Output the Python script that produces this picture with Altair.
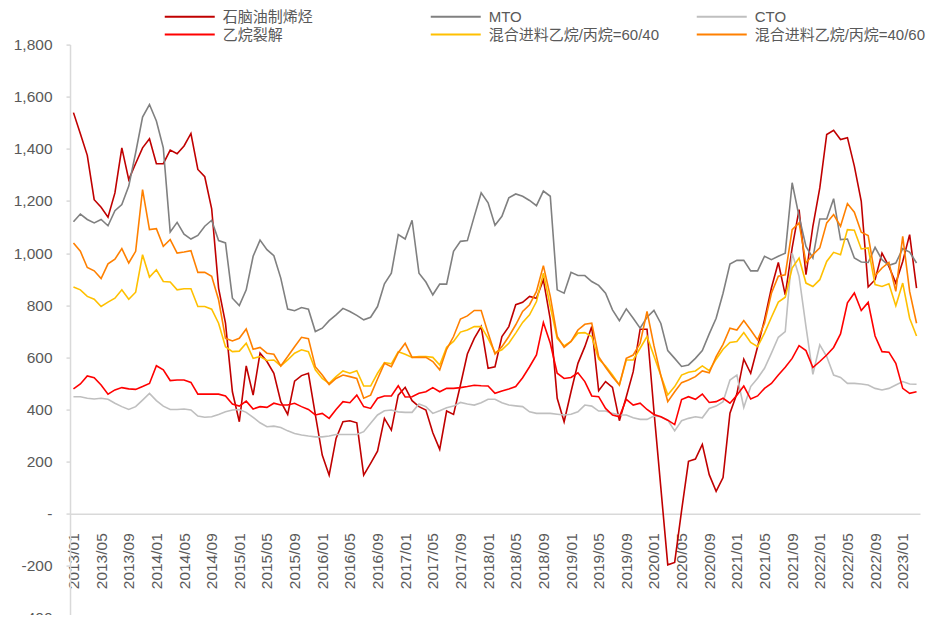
import altair as alt
import pandas as pd

# Monthly categories 2013/01 .. 2023/03
months = [f"{2013 + i // 12}/{i % 12 + 1:02d}" for i in range(123)]
tick_months = months[::4]

series_names = ["石脑油制烯烃", "MTO", "CTO", "乙烷裂解",
                "混合进料乙烷/丙烷=60/40", "混合进料乙烷/丙烷=40/60"]
series_colors = ["#C00000", "#808080", "#BFBFBF", "#FF0000", "#FFC000", "#FF8000"]

naphtha = [1539, 1458, 1375, 1205, 1176, 1138, 1231, 1404, 1282, 1344, 1404, 1439,
           1343, 1343, 1395, 1381, 1411, 1459, 1321, 1293, 1170, 866, 731, 468,
           353, 567, 455, 616, 584, 539, 430, 381, 509, 530, 539, 380,
           225, 148, 289, 353, 357, 349, 148, 193, 240, 366, 321, 455,
           485, 434, 411, 398, 311, 247, 394, 381, 494, 613, 673, 718,
           558, 564, 680, 718, 802, 811, 834, 827, 898, 746, 443, 353,
           468, 577, 641, 718, 472, 507, 485, 357, 449, 545, 708, 708,
           394, 99, -196, -187, 12, 201, 210, 266, 150, 86, 139, 386,
           460, 593, 539, 641, 744, 866, 964, 840, 1020, 1167, 917, 1103,
           1250, 1455, 1471, 1436, 1443, 1334, 1199, 870, 898, 1000, 949, 885,
           968, 1071, 866]

mto = [1120, 1150, 1129, 1116, 1129, 1105, 1163, 1186, 1257, 1385, 1522, 1570,
       1507, 1404, 1081, 1118, 1073, 1054, 1068, 1103, 1126, 1048, 1039, 827,
       799, 859, 988, 1050, 1013, 990, 904, 785, 779, 791, 785, 699,
       712, 741, 763, 788, 776, 761, 744, 754, 795, 882, 923, 1071,
       1054, 1126, 923, 889, 840, 881, 881, 1007, 1045, 1048, 1141, 1231,
       1193, 1107, 1141, 1212, 1227, 1218, 1202, 1182, 1238, 1218, 859, 846,
       926, 914, 914, 891, 876, 846, 782, 741, 786, 750, 712, 754,
       780, 730, 626, 596, 565, 571, 596, 626, 690, 750, 846, 958,
       972, 972, 932, 932, 988, 975, 988, 1000, 1270, 1141, 1026, 981,
       1131, 1131, 1209, 1052, 1054, 981, 966, 964, 1022, 975, 953, 962,
       1017, 1004, 962]

cto = [449, 449, 443, 440, 443, 439, 424, 411, 400, 411, 436, 462,
       434, 413, 400, 400, 402, 398, 375, 370, 372, 381, 391, 398,
       400, 389, 370, 349, 334, 336, 331, 318, 308, 302, 298, 295,
       295, 298, 304, 304, 304, 304, 315, 347, 379, 395, 398, 391,
       389, 389, 421, 411, 385, 395, 407, 413, 427, 421, 417, 426,
       439, 439, 426, 417, 414, 411, 391, 385, 385, 385, 382, 379,
       382, 391, 417, 413, 394, 394, 385, 379, 379, 368, 362, 362,
       375, 372, 359, 318, 357, 366, 372, 368, 404, 413, 430, 513,
       532, 408, 488, 520, 558, 616, 677, 699, 1000, 911, 718, 535,
       648, 603, 532, 523, 500, 500, 498, 494, 481, 475, 481, 494,
       507, 498, 497]

ethane = [479, 498, 529, 522, 494, 459, 475, 484, 479, 477, 488, 500,
          568, 552, 511, 513, 513, 504, 459, 459, 459, 459, 452, 421,
          413, 432, 402, 411, 408, 424, 417, 417, 424, 411, 400, 379,
          385, 366, 400, 430, 426, 455, 411, 404, 443, 452, 452, 491,
          448, 449, 462, 468, 484, 468, 481, 481, 484, 488, 493, 491,
          490, 462, 471, 479, 488, 522, 564, 609, 734, 654, 539, 519,
          523, 541, 507, 452, 449, 404, 379, 372, 439, 417, 424, 400,
          381, 372, 359, 342, 438, 449, 439, 459, 427, 430, 443, 424,
          455, 490, 440, 452, 481, 500, 532, 562, 596, 645, 626, 561,
          584, 609, 638, 690, 809, 847, 780, 811, 682, 622, 620, 577,
          481, 462, 468]

mix_60_40 = [870, 859, 834, 823, 795, 812, 827, 859, 823, 850, 994, 908,
             936, 891, 889, 859, 863, 863, 795, 795, 785, 731, 641, 622,
             624, 654, 596, 603, 588, 590, 567, 590, 616, 629, 622, 552,
             519, 500, 526, 548, 539, 549, 490, 490, 539, 580, 575, 622,
             612, 600, 603, 603, 600, 571, 639, 661, 697, 705, 718, 718,
             673, 618, 629, 654, 693, 734, 763, 814, 923, 795, 673, 644,
             661, 693, 695, 680, 593, 567, 532, 494, 590, 590, 635, 680,
             605, 530, 456, 488, 532, 543, 548, 567, 549, 593, 631, 657,
             661, 695, 657, 641, 693, 754, 812, 831, 943, 981, 885, 872,
             898, 968, 1003, 994, 1090, 1088, 1016, 1020, 879, 872, 882, 798,
             885, 750, 682]

mix_40_60 = [1039, 1007, 945, 932, 902, 959, 977, 1017, 962, 1007, 1244, 1090,
             1094, 1026, 1052, 1000, 1004, 1009, 926, 926, 911, 821, 673, 663,
             673, 709, 631, 638, 616, 612, 567, 603, 641, 677, 672, 564,
             532, 496, 519, 532, 526, 519, 443, 455, 517, 577, 564, 618,
             654, 600, 600, 600, 584, 552, 631, 680, 747, 759, 780, 780,
             693, 613, 641, 680, 725, 776, 802, 853, 952, 834, 680, 639,
             661, 705, 727, 731, 603, 562, 526, 494, 596, 609, 654, 776,
             645, 530, 430, 468, 503, 513, 526, 548, 541, 603, 650, 712,
             705, 741, 705, 667, 731, 846, 911, 917, 1090, 1116, 962, 994,
             1020, 1116, 1148, 1103, 1190, 1157, 1080, 1067, 913, 943, 964, 853,
             1064, 853, 731]

all_series = [naphtha, mto, cto, ethane, mix_60_40, mix_40_60]
rows = []
for name, vals in zip(series_names, all_series):
    for m, v in zip(months, vals):
        rows.append({"month": m, "value": v, "series": name})
df = pd.DataFrame(rows)

FONT = "'Liberation Sans', Arial, 'Noto Sans CJK SC'"
GRAY_TXT = "#595959"
AXIS_GRAY = "#D9D9D9"
VIEW_H = 570          # visible plot height
SCALE_H = 573.4       # full -400..1800 extent (bottom slightly clipped, as in reference)
ZERO_FROM_TOP = SCALE_H * 1800 / 2200
ZERO_OFFSET = -(VIEW_H - ZERO_FROM_TOP)

y_label_expr = ("datum.value == 0 ? '-\u00a0\u00a0\u00a0' : "
                "(datum.value < 0 ? '-' : '') + format(abs(datum.value), ',')")

chart = alt.Chart(df).mark_line(strokeWidth=1.6).encode(
    x=alt.X("month:O", sort=months,
            scale=alt.Scale(domain=months, padding=0.5),
            axis=alt.Axis(values=tick_months, labelAngle=-90, ticks=False,
                          domainColor=AXIS_GRAY, domainWidth=1.5,
                          labelPadding=19, offset=ZERO_OFFSET,
                          labelColor=GRAY_TXT, labelFont=FONT,
                          labelFontSize=15.5, labelOverlap=False,
                          title=None)),
    y=alt.Y("value:Q",
            scale=alt.Scale(domain=[-400, 1800], range=[SCALE_H, 0],
                            nice=False, zero=False),
            axis=alt.Axis(values=list(range(-400, 1801, 200)),
                          labelExpr=y_label_expr, tickSize=4,
                          tickColor=AXIS_GRAY, tickWidth=1.5,
                          domainColor=AXIS_GRAY, domainWidth=1.5,
                          labelPadding=14, grid=False,
                          labelColor=GRAY_TXT, labelFont=FONT,
                          labelFontSize=15.5, title=None)),
    color=alt.Color("series:N",
                    scale=alt.Scale(domain=series_names, range=series_colors),
                    legend=alt.Legend(orient="none", legendX=95, legendY=-35.5,
                                      direction="horizontal",
                                      columns=3, gridAlign="all",
                                      symbolType="M-5,0H5", symbolSize=100,
                                      symbolStrokeWidth=2, symbolOffset=17.25,
                                      labelOffset=25.5, columnPadding=32,
                                      rowPadding=2, labelFont=FONT,
                                      labelFontSize=15, labelColor=GRAY_TXT,
                                      labelLimit=400, padding=0, title=None)),
).properties(
    width=850, height=VIEW_H,
    autosize=alt.AutoSizeParams(type="none"),
    padding={"left": 62, "top": 36.6, "right": 13, "bottom": 0},
).configure_view(stroke=None)

chart.save("out.html", embed_options={"renderer": "svg", "actions": False})
